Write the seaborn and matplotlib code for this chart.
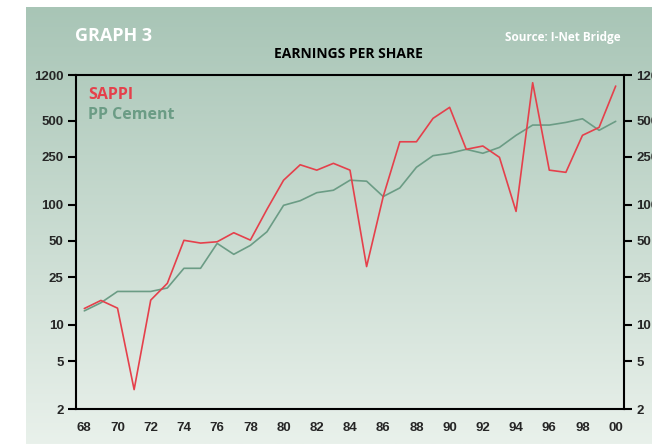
import numpy as np
import pandas as pd
import matplotlib
matplotlib.use("Agg")
import matplotlib.pyplot as plt
import seaborn as sns

# Earnings per share (log scale)
years = list(range(1968, 2001))
sappi = [13.7, 16.0, 13.8, 2.9, 16.1, 22.2, 50.6, 48, 49.2, 58.5, 50.8,
         91.6, 160, 215, 194, 221, 194, 30.6, 117, 334, 334, 523, 646,
         289, 308, 248, 88, 1035, 194, 186, 378, 440, 971]
pp_cement = [13.1, 15.3, 19.0, 19.0, 19.0, 20.3, 29.6, 29.6, 47.7, 38.7, 45.9,
             59.6, 98.9, 108, 126, 132, 160, 157, 117, 138, 205, 256, 268,
             289, 268, 300, 378, 460, 460, 484, 519, 416, 494]
y_ticks = [2, 5, 10, 25, 50, 100, 250, 500, 1200]

RED = "#e5404b"
GREEN = "#6b9c85"

sns.set_style("white")
plt.rcParams["font.family"] = ["Liberation Sans", "DejaVu Sans"]

df = pd.DataFrame({"year": years, "SAPPI": sappi, "PP Cement": pp_cement})
df["x"] = df["year"] + 0.5  # points sit in the middle of each year
long = df.melt(id_vars=["year", "x"], var_name="company", value_name="eps")

fig = plt.figure(figsize=(6.52, 4.44), dpi=100)
fig.patch.set_facecolor("white")

# green gradient panel behind everything
bg = fig.add_axes([26 / 652, 0, 1 - 26 / 652, 437 / 444])
top = np.array([168, 197, 182]) / 255
bot = np.array([233, 241, 235]) / 255
t = np.linspace(0, 1, 256)[:, None]
grad = (top * (1 - t) + bot * t)[:, None, :]
bg.imshow(grad, aspect="auto", extent=[0, 1, 0, 1])
bg.set_axis_off()

ax = fig.add_axes([76 / 652, 35 / 444, 548 / 652, 334 / 444])
ax.set_facecolor("none")
sns.lineplot(data=long, x="x", y="eps", hue="company",
             palette={"SAPPI": RED, "PP Cement": GREEN},
             hue_order=["PP Cement", "SAPPI"], linewidth=1.2,
             legend=False, ax=ax)

ax.set_yscale("log")
ax.set_ylim(2, 1200)
ax.set_xlim(1968, 2001)
ax.set_yticks(y_ticks)
ax.set_yticklabels([str(v) for v in y_ticks])
ax.minorticks_off()
ax.set_xticks(range(1968, 2002))
ax.set_xticklabels([])
ax.set_xticks([y + 0.5 for y in years if y % 2 == 0], minor=True)
ax.set_xticklabels([f"{y % 100:02d}" for y in years if y % 2 == 0], minor=True)
ax.tick_params(axis="x", which="major", direction="out", length=6, width=1.5,
               color="black")
ax.tick_params(axis="x", which="minor", length=0, pad=9, labelsize=9.5)
ax.tick_params(axis="y", which="major", direction="out", length=6, width=1.5,
               color="black", labelsize=9.5, left=True, right=True,
               labelleft=True, labelright=True, pad=3)
for lab in ax.get_xticklabels(minor=True) + ax.get_yticklabels():
    lab.set_fontweight("bold")
for side in ["left", "right", "top", "bottom"]:
    ax.spines[side].set_visible(True)
    ax.spines[side].set_color("black")
    ax.spines[side].set_linewidth(1.5)
ax.set_xlabel("")
ax.set_ylabel("")

ax.text(0.022, 0.94, "SAPPI", transform=ax.transAxes, color=RED,
        fontsize=11.5, fontweight="bold", family=["Open Sans", "DejaVu Sans"],
        va="center", ha="left")
ax.text(0.022, 0.88, "PP Cement", transform=ax.transAxes, color=GREEN,
        fontsize=11.5, fontweight="bold", family=["Open Sans", "DejaVu Sans"],
        va="center", ha="left")

fig.text(75 / 652, 1 - 36 / 444, "GRAPH 3", color="white", fontsize=13,
         fontweight="bold", family=["Open Sans", "DejaVu Sans"], va="center")
fig.text(621 / 652, 1 - 37 / 444, "Source: I-Net Bridge", color="white",
         fontsize=8.5, fontweight="bold", family=["Open Sans", "DejaVu Sans"],
         va="center", ha="right")
fig.text(348 / 652, 1 - 54 / 444, "EARNINGS PER SHARE", color="black",
         fontsize=10, fontweight="bold", family=["Open Sans", "DejaVu Sans"],
         va="center", ha="center")

fig.savefig("out.png", dpi=100, facecolor=fig.get_facecolor())
